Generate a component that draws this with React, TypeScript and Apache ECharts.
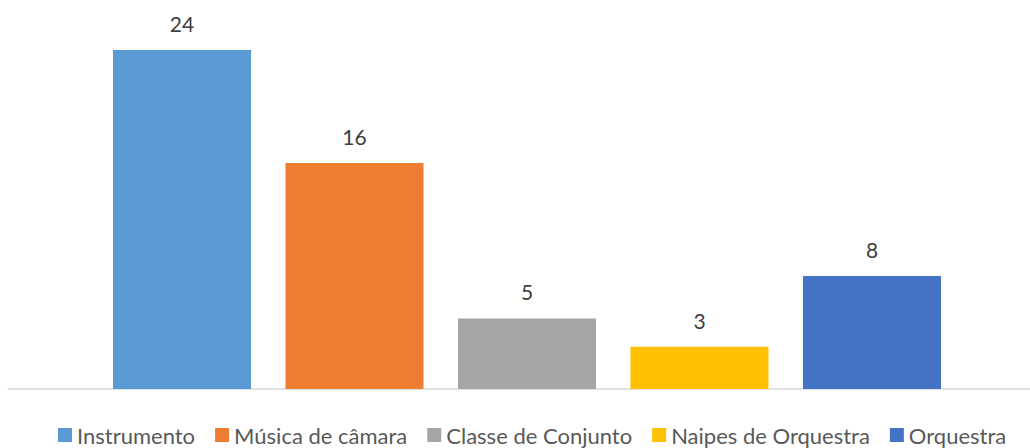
import React, { useEffect, useRef } from "react";
import * as echarts from "echarts";

const seriesNames = ["Instrumento", "Música de câmara", "Classe de Conjunto", "Naipes de Orquestra", "Orquestra"];
const seriesValues = [24, 16, 5, 3, 8];
const seriesColors = ["#5B9BD5", "#ED7D31", "#A5A5A5", "#FFC000", "#4472C4"];
const categories = [""];

const FONT = "Lato, 'Noto Sans', sans-serif";

export default function App() {
  const ref = useRef<HTMLDivElement>(null);
  useEffect(() => {
    if (!ref.current) return;
    const chart = echarts.init(ref.current, null, { renderer: "svg" });
    chart.setOption({
      animation: false,
      backgroundColor: "#ffffff",
      textStyle: { fontFamily: FONT },
      grid: { left: 8, right: -16, top: 50, bottom: 59, outerBoundsMode: "none" },
      legend: {
        left: 58,
        top: 424,
        padding: 0,
        itemWidth: 14,
        itemHeight: 14,
        itemGap: 20,
        icon: "rect",
        textStyle: { fontFamily: FONT, fontSize: 22, lineHeight: 22, color: "#595959" },
        data: seriesNames,
      },
      xAxis: {
        type: "category",
        data: categories,
        axisLine: { show: true, lineStyle: { color: "#d9d9d9", width: 1.5 } },
        axisTick: { show: false },
        axisLabel: { show: false },
        splitLine: { show: false },
      },
      yAxis: {
        type: "value",
        min: 0,
        max: 24,
        show: false,
        splitLine: { show: false },
      },
      series: seriesNames.map((name, i) => ({
        name,
        type: "bar",
        data: [seriesValues[i]],
        barWidth: 138,
        barGap: "25%",
        itemStyle: { color: seriesColors[i] },
        label: {
          show: true,
          position: "top",
          distance: 16,
          fontFamily: FONT,
          fontSize: 21,
          color: "#404040",
        },
      })),
    });
    return () => chart.dispose();
  }, []);
  return (
    <div
      ref={ref}
      style={{ position: "fixed", left: 0, top: 0, width: 1030, height: 448, background: "#fff" }}
    />
  );
}
